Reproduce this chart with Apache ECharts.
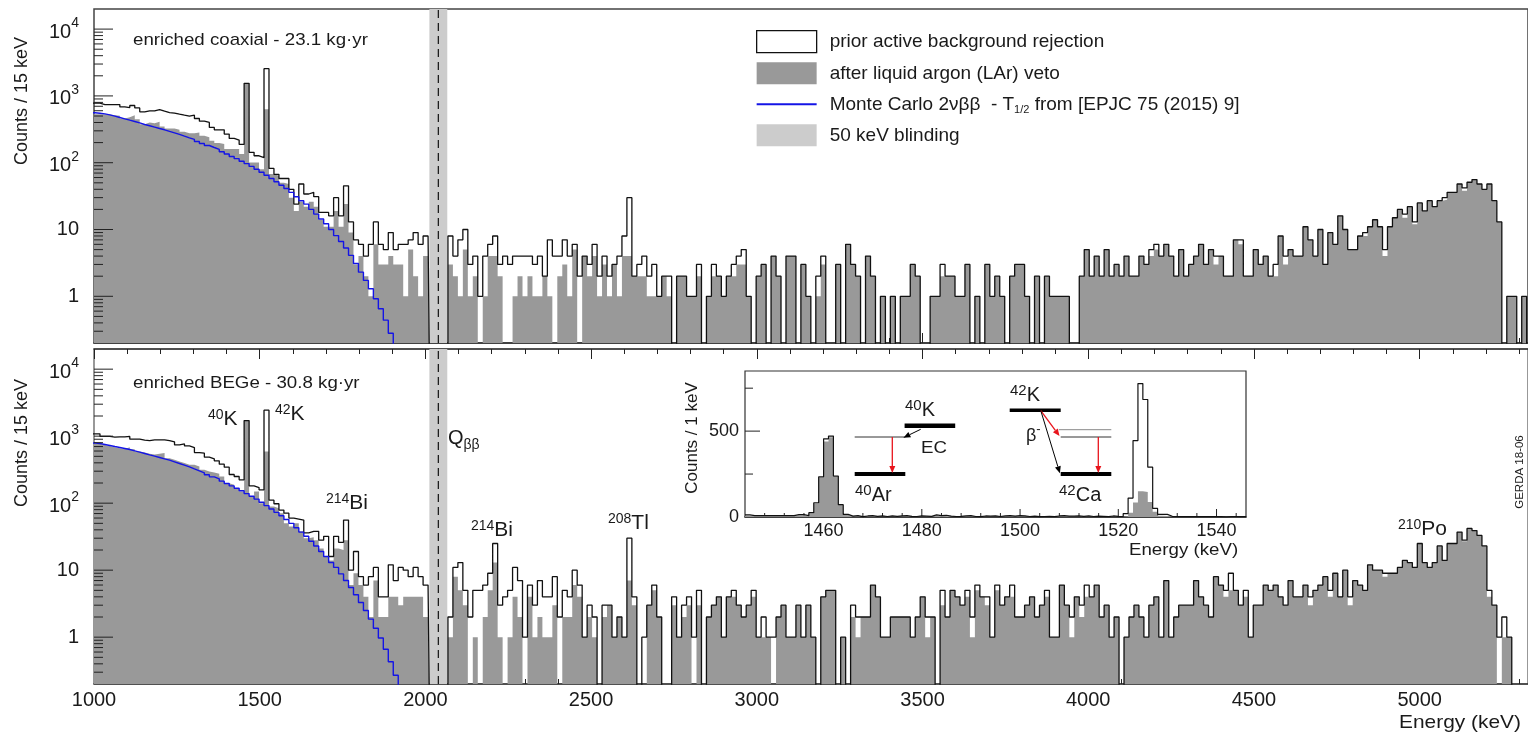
<!DOCTYPE html>
<html><head><meta charset="utf-8">
<style>html,body{margin:0;padding:0;background:#fff;overflow:hidden}#c{width:1528px;height:735px}</style>
<script src="https://cdn.jsdelivr.net/npm/echarts@6/dist/echarts.min.js"></script>
</head><body><div id="c"></div>
<script>
const firstEdge = 988, binWidth = 15, emptyLevel = 0.1;
const blindLo = 2012, blindHi = 2066, qbb = 2039;

const coaxPrior = [
778,778,743,743,743,743,685,670,718,662,
577,597,597,625,590,564,551,532,514,497,
514,459,419,400,337,311,311,268,231,218,
188,1545,143,127,119,2559,82,67,58,58,
40,24,48,34,36,31,18,18,16,30,
16,45,13,7,6,4,6,13,6,5,
9,5,6,6,7,9,6,8,8,0,
0,0,8,4,7,10,3,4,1,4,
6,8,3,4,3,4,4,4,4,3,
4,2,7,4,4,7,4,6,2,4,
3,6,2,4,2,3,4,8,30,2,
3,4,2,3,1,2,2,0,2,2,
1,1,3,0,1,3,2,1,2,3,
4,5,1,0,2,3,0,4,2,0,
4,4,0,3,1,0,2,4,0,0,
3,0,6,3,2,0,4,2,0,1,
0,1,0,1,1,3,2,0,0,1,
1,3,2,2,1,1,3,0,1,0,
3,1,2,1,0,2,3,3,1,0,
2,0,2,1,1,1,1,0,0,2,
5,2,4,2,5,2,3,2,4,2,
2,4,3,5,6,4,6,4,2,5,
2,3,4,6,3,5,4,4,2,2,
7,7,2,2,5,3,4,2,3,8,
4,5,4,4,11,7,4,10,3,9,
6,16,10,5,5,8,9,11,14,11,
5,11,15,20,17,22,13,25,19,27,
22,27,30,36,36,48,42,51,56,48,
40,48,27,13,0,1,1,0,1,0];
const coaxLAr = [
532,532,532,526,514,504,459,480,514,449,
378,400,391,409,349,325,325,311,290,277,
277,284,254,240,214,198,191,160,160,160,
135,1545,101,101,80,634,68,64,50,48,
30,19,26,22,26,22,14,11,11,19,
11,24,9,3,4,2,1,6,3,3,
4,3,3,1,5,2,1,4,4,0,
0,0,3,2,1,5,1,2,0,1,
4,4,2,0,0,1,2,1,2,1,
1,2,1,0,2,3,1,5,0,4,
2,4,1,3,1,3,1,4,4,2,
2,2,1,1,1,2,1,0,2,2,
1,1,2,0,1,2,2,1,2,2,
3,3,1,0,2,3,0,4,2,0,
4,4,0,3,1,0,1,3,0,0,
3,0,6,3,2,0,4,2,0,1,
0,1,0,1,1,3,2,0,0,1,
1,2,2,2,1,1,3,0,1,0,
3,1,2,1,0,2,3,3,1,0,
2,0,2,1,1,1,1,0,0,2,
5,2,4,2,5,2,3,2,4,2,
2,4,3,4,5,4,6,4,2,5,
2,3,4,6,3,5,3,4,2,2,
7,6,2,2,5,3,4,2,2,8,
3,5,4,4,11,7,4,10,3,9,
6,16,10,5,5,8,8,11,14,11,
4,11,15,20,15,22,12,25,19,27,
22,27,28,36,36,48,38,51,56,48,
40,48,27,13,0,1,1,0,1,0];
const coaxMC = [
560,551,539,520,497,475,454,433,414,395,
373,357,341,325,311,294,280,265,250,236,
223,208,194,181,169,158,146,135,124,115,
105,97,88,80,72,65,58,52,46,41,
36,31,27,24,20,17,14.4,12.2,10,8.1,
6.6,5.3,4.1,3.1,2.3,1.73,1.3,0.92,0.65,0.44,
0.28,0.19];

const begePrior = [
1083,1083,990,990,966,977,977,990,902,902,
871,861,881,881,881,861,822,741,767,716,
676,570,557,486,459,428,382,344,268,250,
223,1709,181,171,158,2443,111,98,79,71,
60,58,56,36,38,38,28,32,16,32,
26,56,10,19,8,6,8,11,4,4,
12,7,11,10,8,11,8,6,6,0,
0,0,2,11,13,5,2,5,5,6,
9,25,3,4,5,11,7,1,6,3,
7,4,4,8,2,5,4,10,6,1,
3,2,0,3,3,1,2,1,30,4,
0,1,3,6,2,0,0,4,1,3,
4,1,5,0,2,3,4,1,4,5,
3,2,3,5,1,2,1,1,2,3,
1,1,3,1,3,1,0,4,5,5,
0,1,0,3,2,2,2,6,4,1,
1,2,2,2,2,1,2,4,2,2,
0,5,2,5,4,3,5,2,6,4,
4,1,6,3,4,6,2,2,3,4,
2,3,5,1,1,6,3,2,4,3,
6,4,6,2,3,1,2,0,1,2,
3,2,1,3,4,1,7,1,2,3,
3,3,7,4,3,2,8,6,5,9,
5,3,5,1,3,3,6,5,6,4,
3,7,4,4,6,4,5,6,8,5,
9,4,10,4,7,6,5,12,10,10,
9,9,9,11,14,13,11,25,13,11,
13,23,14,25,25,37,28,42,39,33,
23,5,3,1,2,1,0,0,0,0];
const begeLAr = [
769,769,741,716,684,659,644,684,636,590,
570,545,532,545,563,470,444,419,396,374,
374,353,315,297,287,274,250,199,188,167,
149,1709,125,149,100,590,89,84,71,50,
45,50,38,30,31,28,21,16,14,21,
20,28,6,9,6,4,2,7,2,2,
4,4,3,4,4,4,4,2,2,0,
0,0,1,8,5,3,0,1,0,2,
5,13,1,0,1,4,2,0,4,1,
2,1,1,3,0,2,2,6,4,1,
2,1,0,2,3,1,2,1,7,3,
0,0,3,5,2,0,0,3,1,2,
3,0,3,0,2,3,4,1,4,4,
3,2,3,4,1,1,1,0,2,3,
1,1,3,1,3,1,0,4,5,5,
0,1,0,2,1,2,2,6,4,1,
1,2,2,2,2,1,2,4,1,2,
0,3,2,5,4,3,4,1,5,4,
3,1,5,3,4,4,2,2,3,4,
2,3,4,1,1,6,3,1,4,2,
4,4,6,2,3,1,2,0,1,2,
3,2,1,3,4,1,7,1,2,3,
3,3,7,4,3,2,8,6,4,5,
5,3,4,1,3,3,6,5,6,4,
3,7,4,4,6,3,5,6,8,4,
9,4,10,3,7,6,5,12,10,10,
8,9,9,11,14,13,11,25,13,11,
13,23,14,25,25,37,27,42,39,33,
23,4,3,0,1,1,0,0,0,0];
const begeMC = [
790,777,751,726,701,678,655,632,604,577,
551,526,503,481,459,438,414,391,369,348,
325,304,284,265,247,231,213,197,181,167,
153,139,127,115,103,92,82,73,65,57,
50,43,37,32,27,23,19,16,13,11,
8.8,7.0,5.5,4.3,3.3,2.5,1.86,1.36,0.97,0.66,
0.43,0.27,0.19];

const insetStart = 1444;
const insetPrior = [
12,8,8,8,8,8,8,8,8,8,
14,14,8,25,83,234,455,471,238,72,
15,5,8,2,6,8,4,6,3,6,
4,6,8,4,3,6,5,4,12,8,
10,5,3,4,6,8,3,2,6,5,
6,3,6,8,5,8,6,3,5,2,
3,4,2,6,8,5,5,6,4,6,
3,5,4,2,6,4,3,20,110,445,
777,684,290,50,15,15,4,3,2,3,
2,3,2,3,2,3,2,0,3,3,2,2];
const insetLAr = [
8,6,6,6,6,6,6,6,6,6,
10,10,6,22,80,230,440,465,235,70,
12,4,6,1,4,6,3,4,2,4,
3,4,6,3,2,4,4,3,9,6,
8,4,2,3,4,6,2,1,4,4,
4,2,4,6,4,6,4,2,4,1,
2,3,1,4,6,4,4,4,3,4,
2,4,3,1,4,3,2,5,25,85,
150,145,87,30,8,6,3,2,1,2,
1,2,1,2,1,2,1,0,2,2,1,1];

const xTickLabels = [1000,1500,2000,2500,3000,3500,4000,4500,5000];
const insetTickLabels = [1460,1480,1500,1520,1540];
const decades = [1,10,100,1000,10000];
const minorMultiples = [2,3,4,5,6,7,8,9];

const names = {
  prior:'prior active background rejection',
  lar:'after liquid argon (LAr) veto',
  mc:'Monte Carlo 2νββ  - T1/2 from [EPJC 75 (2015) 9]',
  blind:'50 keV blinding'
};
const FONT = '"Liberation Sans", Arial, sans-serif';
const INK = '#1a1a1a';
const GRAY = '#999999', BAND = '#cccccc', BLUE = '#1414e6';

function steps(values){
  const pts = [];
  let inserted = false;
  values.forEach((v,i)=>{
    const e = firstEdge + i*binWidth;
    if(!inserted && e > blindLo){ pts.push([blindLo, emptyLevel]); inserted = true; }
    const blind = e >= blindLo && e < blindHi;
    pts.push([e, (blind || v === 0) ? emptyLevel : v]);
  });
  return pts;
}
function insetSteps(values){
  const pts = values.map((v,i)=>[insetStart+i, v]);
  pts.push([insetStart+values.length, values[values.length-1]]);
  return pts;
}
function ticks(x,y,data){
  return {type:'custom',xAxisIndex:x,yAxisIndex:y,silent:true,clip:false,z:6,data,encode:{x:0,y:1},
    renderItem:(p,api)=>{
      const c = api.coord([api.value(0),api.value(1)]);
      return {type:'line',shape:{x1:c[0],y1:c[1],x2:c[0]+api.value(2),y2:c[1]+api.value(3)},
        style:{stroke:'#222',lineWidth:1,fill:null}};
    }};
}
function logTicks(){
  const out = [];
  decades.forEach(d=>{
    out.push([1000,d,19,0]);
    if(d<10000) minorMultiples.forEach(m=>out.push([1000,d*m,9,0]));
  });
  [0.3,0.4,0.5,0.6,0.7,0.8,0.9].forEach(v=>out.push([1000,v,9,0]));
  return out;
}
function panel(idx, prior, lar, mc){
  return [
    {type:'custom',name:names.blind,xAxisIndex:idx,yAxisIndex:idx,silent:true,z:1,clip:true,
      data:[[blindLo,blindHi]],encode:{x:[0,1]},
      renderItem:(p,api)=>{
        const a = api.coord([api.value(0),1]), b = api.coord([api.value(1),1]);
        return {type:'rect',shape:{x:a[0],y:p.coordSys.y,width:b[0]-a[0],height:p.coordSys.height},style:{fill:BAND}};
      }},
    {type:'line',name:names.lar,xAxisIndex:idx,yAxisIndex:idx,data:steps(lar),step:'end',symbol:'none',silent:true,
      z:2,lineStyle:{width:0},itemStyle:{color:GRAY},areaStyle:{color:GRAY,opacity:1,origin:'start'}},
    {type:'line',name:names.prior,xAxisIndex:idx,yAxisIndex:idx,data:steps(prior),step:'end',symbol:'none',silent:true,
      z:3,lineStyle:{color:'#111',width:1.3},itemStyle:{color:'#fff'}},
    {type:'line',name:names.mc,xAxisIndex:idx,yAxisIndex:idx,data:mc.map((v,i)=>[firstEdge+i*binWidth,v]),step:'end',symbol:'none',silent:true,
      z:4,lineStyle:{color:BLUE,width:1.4},itemStyle:{color:BLUE}},
    {type:'line',xAxisIndex:idx,yAxisIndex:idx,data:[[qbb,0.2],[qbb,20000]],symbol:'none',silent:true,
      z:5,lineStyle:{color:'#111',width:1.2,type:[8,5]}}
  ];
}
const supLabel = (v)=>{
  const l = Math.log10(v);
  if(Math.abs(l-Math.round(l))>1e-6 || l<-0.01) return '';
  const e = Math.round(l);
  if(e===0) return '1';
  if(e===1) return '10';
  return '{b|10}{s|'+e+'}';
};
const yRich = {b:{fontSize:20,fontFamily:FONT,color:INK,verticalAlign:'bottom',lineHeight:26},
               s:{fontSize:14,fontFamily:FONT,color:INK,verticalAlign:'top',lineHeight:26}};

function yLog(grid){
  return {type:'log',logBase:10,gridIndex:grid,min:0.2,max:20000,
    axisLine:{show:false},axisTick:{show:false},minorTick:{show:false},splitLine:{show:false},minorSplitLine:{show:false},
    axisLabel:{show:true,formatter:supLabel,rich:yRich,margin:15,color:INK,fontSize:20,fontFamily:FONT,showMinLabel:false,showMaxLabel:false}};
}
function xMain(grid,pos,labels){
  return {type:'value',gridIndex:grid,position:pos,min:1000,max:5327,interval:500,
    axisLine:{show:true,lineStyle:{color:'#333',width:1.5}},
    axisTick:{show:true,inside:true,length:10,lineStyle:{color:'#222'}},
    minorTick:{show:true,splitNumber:5,length:5,lineStyle:{color:'#222'}},
    splitLine:{show:false},
    axisLabel:{show:labels,color:INK,fontSize:20,fontFamily:FONT,margin:6,formatter:(v)=>String(v),
      customValues:labels?xTickLabels:undefined}};
}

function T(text,x,y,size,extra){
  return Object.assign({type:'text',x,y,z:20,silent:true,scaleX:1.1,
    style:{text,fill:INK,font:size+'px '+FONT,textVerticalAlign:'middle'}},extra||{});
}
function iso(sup,base,x,y,supSize,size){
  return {type:'text',x,y,z:20,silent:true,
    style:{text:'{s|'+sup+'}{b|'+base+'}',fill:INK,textVerticalAlign:'bottom',
      rich:{s:{fontSize:supSize||14,fontFamily:FONT,fill:INK,verticalAlign:'top',lineHeight:22},
            b:{fontSize:size||21,fontFamily:FONT,fill:INK,verticalAlign:'bottom',lineHeight:22}}}};
}
function L(x1,y1,x2,y2,color,w){
  return {type:'line',z:20,silent:true,shape:{x1,y1,x2,y2},style:{stroke:color,lineWidth:w}};
}
function A(x1,y1,x2,y2,color,w){
  const a = Math.atan2(y2-y1,x2-x1), s = 7, t = 3;
  const bx = x2-s*Math.cos(a), by = y2-s*Math.sin(a);
  return [L(x1,y1,bx,by,color,w),
    {type:'polygon',z:20,silent:true,shape:{points:[[x2,y2],[bx-t*Math.sin(a),by+t*Math.cos(a)],[bx+t*Math.sin(a),by-t*Math.cos(a)]]},style:{fill:color}}];
}
const RED = '#e8141c';
const graphics = [
  {type:'text',x:22,y:101,rotation:Math.PI/2,z:20,silent:true,style:{text:'Counts / 15 keV',fill:INK,font:'18px '+FONT,textAlign:'center',textVerticalAlign:'middle'}},
  {type:'text',x:22,y:443,rotation:Math.PI/2,z:20,silent:true,style:{text:'Counts / 15 keV',fill:INK,font:'18px '+FONT,textAlign:'center',textVerticalAlign:'middle'}},
  {type:'text',x:692,y:438,rotation:Math.PI/2,z:20,silent:true,style:{text:'Counts / 1 keV',fill:INK,font:'17px '+FONT,textAlign:'center',textVerticalAlign:'middle'}},
  {type:'text',x:1520,y:472,rotation:Math.PI/2,z:20,silent:true,style:{text:'GERDA 18-06',fill:INK,font:'11.5px '+FONT,textAlign:'center',textVerticalAlign:'middle'}},
  T('enriched coaxial - 23.1 kg·yr',133,40,17),
  T('enriched BEGe - 30.8 kg·yr',133,383,17),
  T('Energy (keV)',1399,723,19),
  T('Energy (keV)',1129,550,17),
  iso('40','K',208,430),
  iso('42','K',275,425),
  iso('214','Bi',326,514),
  iso('214','Bi',471,541),
  iso('208','Tl',608,534),
  iso('210','Po',1398,540),
  {type:'text',x:448,y:452,z:20,silent:true,style:{text:'{b|Q}{s|ββ}',textVerticalAlign:'bottom',
    rich:{b:{fontSize:20,fontFamily:FONT,fill:INK,verticalAlign:'top',lineHeight:24},s:{fontSize:14,fontFamily:FONT,fill:INK,verticalAlign:'bottom',lineHeight:24}}}},
  L(904.6,425.7,955.2,425.7,'#000',4.5),
  L(854.7,437,905.3,437,'#333',1),
  L(854.7,474,905.3,474,'#000',4),
  ...A(892.3,437,892.3,473,RED,1.3),
  ...A(920.7,429.3,903.4,437.7,'#000',1),
  iso('40','K',905,420,15,20),
  iso('40','Ar',855,505,15,20),
  T('EC',921,448,17),
  L(1009.7,410.3,1060.7,410.3,'#000',3.5),
  L(1058.8,429.7,1111.3,429.7,'#888',1),
  L(1060.7,437,1111.3,437,'#333',1),
  L(1060.7,474,1111.3,474,'#000',4),
  ...A(1040.8,410.7,1059.5,436,RED,1.3),
  ...A(1040.8,410.7,1059.9,473.3,'#000',1),
  ...A(1098.3,437,1098.3,473,RED,1.3),
  iso('42','K',1010,405,15,20),
  iso('42','Ca',1059,505,15,20),
  {type:'text',x:1026,y:434,z:20,silent:true,style:{text:'{b|β}{s|-}',textVerticalAlign:'middle',
    rich:{b:{fontSize:18,fontFamily:FONT,fill:INK,verticalAlign:'bottom',lineHeight:22},s:{fontSize:13,fontFamily:FONT,fill:INK,verticalAlign:'top',lineHeight:22}}}}
];

const insetMinorX = [], insetMajorX = [];
[1448,1452,1456,1464,1468,1472,1476,1484,1488,1492,1496,1504,1508,1512,1516,1524,1528,1532,1536,1544].forEach(v=>insetMinorX.push([v,0,0,-4]));
insetTickLabels.forEach(v=>insetMajorX.push([v,0,0,-8]));
const insetY = [[1444,250,8,0],[1444,500,15,0],[1444,750,8,0]];

const chart = echarts.init(document.getElementById('c'),null,{renderer:'canvas'});
chart.setOption({
  animation:false,
  backgroundColor:'#fff',
  textStyle:{fontFamily:FONT},
  grid:[
    {left:94,top:9,width:1434,height:334,show:true,borderColor:'#444',borderWidth:1.5,backgroundColor:'transparent'},
    {left:94,top:349,width:1434,height:335,show:true,borderColor:'#555',borderWidth:1.2,backgroundColor:'transparent'},
    {left:745,top:371,width:501,height:146,show:true,borderColor:'#333',borderWidth:1.2,backgroundColor:'#fff'}
  ],
  xAxis:[
    xMain(0,'bottom',false),
    xMain(1,'bottom',true),
    {type:'value',gridIndex:2,min:1444,max:1546,
      axisLine:{show:true,lineStyle:{color:'#222',width:1.5}},axisTick:{show:false},splitLine:{show:false},
      axisLabel:{show:true,customValues:insetTickLabels,color:INK,fontSize:18,fontFamily:FONT,margin:5,formatter:(v)=>String(v)}},
    xMain(1,'top',false)
  ],
  yAxis:[
    yLog(0),yLog(1),
    {type:'value',gridIndex:2,min:0,max:850,
      axisLine:{show:false},axisTick:{show:false},splitLine:{show:false},
      axisLabel:{show:true,customValues:[0,500],color:INK,fontSize:18,fontFamily:FONT,margin:6}}
  ],
  legend:{
    show:true,orient:'vertical',left:756,top:30,padding:0,itemWidth:60,itemHeight:22,itemGap:9,selectedMode:false,
    formatter:(n)=> n===names.mc ? '{t|Monte Carlo 2νββ  - T}{u|1/2}{v| from [EPJC 75 (2015) 9]}' : '{t|'+n+'}',
    textStyle:{color:INK,fontFamily:FONT,fontSize:19,rich:{
      t:{fontSize:19,fontFamily:FONT,color:INK,padding:[0,0,0,8],lineHeight:22,verticalAlign:'middle'},
      v:{fontSize:19,fontFamily:FONT,color:INK,lineHeight:22,verticalAlign:'middle'},
      u:{fontSize:11,fontFamily:FONT,color:INK,verticalAlign:'bottom',lineHeight:22}}},
    data:[
      {name:names.prior,icon:'rect',itemStyle:{color:'#fff',borderColor:'#111',borderWidth:1.3}},
      {name:names.lar,icon:'rect',itemStyle:{color:GRAY,borderWidth:0}},
      {name:names.mc,icon:'path://M0 0L0 0M0 10H60V12H0ZM0 22L0 22',itemStyle:{color:BLUE,borderWidth:0}},
      {name:names.blind,icon:'rect',itemStyle:{color:BAND,borderWidth:0}}
    ]
  },
  graphic:{elements:graphics},
  series:[
    ...panel(0,coaxPrior,coaxLAr,coaxMC),
    ...panel(1,begePrior,begeLAr,begeMC),
    ticks(0,0,logTicks()),
    ticks(1,1,logTicks()),
    {type:'line',xAxisIndex:2,yAxisIndex:2,data:insetSteps(insetLAr),step:'end',symbol:'none',silent:true,z:7,
      lineStyle:{width:0},areaStyle:{color:GRAY,opacity:1,origin:'start'}},
    {type:'line',xAxisIndex:2,yAxisIndex:2,data:insetSteps(insetPrior),step:'end',symbol:'none',silent:true,z:8,
      lineStyle:{color:'#111',width:1.2}},
    ticks(2,2,insetMinorX),ticks(2,2,insetMajorX),ticks(2,2,insetY)
  ]
});
</script></body></html>
